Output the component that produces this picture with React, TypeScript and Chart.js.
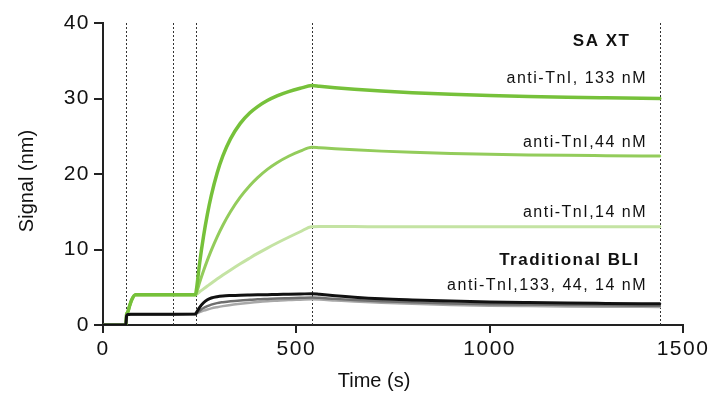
import React, { useEffect, useRef } from "react";
import { Chart, registerables } from "chart.js";

Chart.register(...registerables);

// Time points (s)
const TIME = [0, 59, 61, 64, 68, 74, 84, 120, 180, 239, 241, 250, 260, 270, 280, 295, 310, 330, 355, 380, 400, 425, 450, 480, 510, 540, 560, 600, 650, 720, 800, 900, 1000, 1100, 1200, 1300, 1440];

// SA XT (green)
const SAXT_133 = [0, 0, 1.4, 1.7, 2.4, 3.3, 4.0, 4.0, 4.0, 4.0, 4.46, 8.23, 11.75, 14.69, 17.14, 20.1, 22.39, 24.68, 26.7, 28.1, 28.93, 29.73, 30.35, 30.91, 31.35, 31.71, 31.61, 31.43, 31.23, 30.99, 30.77, 30.55, 30.39, 30.26, 30.16, 30.09, 30.01];
const SAXT_44 = [0, 0, 1.4, 1.7, 2.4, 3.3, 4.0, 4.0, 4.0, 4.0, 4.17, 5.65, 7.18, 8.59, 9.89, 11.65, 13.22, 15.03, 16.93, 18.48, 19.52, 20.61, 21.49, 22.35, 23.02, 23.55, 23.48, 23.34, 23.2, 23.03, 22.87, 22.72, 22.61, 22.53, 22.47, 22.43, 22.38];
const SAXT_14 = [0, 0, 1.4, 1.7, 2.4, 3.3, 4.0, 4.0, 4.0, 4.0, 4.04, 4.4, 4.78, 5.16, 5.54, 6.08, 6.61, 7.29, 8.11, 8.88, 9.48, 10.19, 10.86, 11.62, 12.35, 13.02, 13.03, 13.03, 13.03, 13.02, 13.02, 13.01, 13.0, 13.0, 13.0, 13.0, 13.02];

// Traditional BLI (black / grays)
const TRAD_133 = [0, 0, 1.2, 1.4, 1.4, 1.42, 1.42, 1.43, 1.44, 1.45, 1.6, 2.35, 2.95, 3.35, 3.58, 3.75, 3.84, 3.9, 3.95, 3.98, 4.0, 4.02, 4.05, 4.07, 4.1, 4.15, 4.07, 3.88, 3.68, 3.47, 3.32, 3.17, 3.06, 2.98, 2.91, 2.86, 2.8];
const TRAD_44 = [0, 0, 1.2, 1.4, 1.4, 1.42, 1.42, 1.43, 1.44, 1.45, 1.52, 1.9, 2.25, 2.5, 2.7, 2.9, 3.02, 3.15, 3.26, 3.34, 3.4, 3.45, 3.5, 3.55, 3.6, 3.65, 3.6, 3.46, 3.31, 3.15, 3.0, 2.86, 2.76, 2.7, 2.65, 2.6, 2.55];
const TRAD_14 = [0, 0, 1.2, 1.4, 1.4, 1.42, 1.42, 1.43, 1.44, 1.45, 1.49, 1.7, 1.9, 2.06, 2.2, 2.36, 2.5, 2.66, 2.81, 2.95, 3.05, 3.15, 3.22, 3.3, 3.35, 3.4, 3.37, 3.25, 3.1, 2.95, 2.8, 2.66, 2.56, 2.5, 2.45, 2.42, 2.4];

// Phase boundaries (s)
const PHASE_LINES = [60, 180, 240, 540, 1440];

const X_TICKS = [0, 500, 1000, 1500];
const Y_TICKS = [0, 10, 20, 30, 40];

// Annotation texts: [text, x (s, right edge), y (nm), bold]
const LABELS: [string, number, number, boolean][] = [
  ["SA XT", 1364, 37.8, true],
  ["anti-TnI, 133 nM", 1407, 32.8, false],
  ["anti-TnI,44 nM", 1407, 24.4, false],
  ["anti-TnI,14 nM", 1407, 15.0, false],
  ["Traditional BLI", 1388, 8.8, true],
  ["anti-TnI,133, 44, 14 nM", 1407, 5.4, false],
];

const FONT = "'Liberation Sans', Arial, Helvetica, sans-serif";

const toPts = (arr: number[]) => TIME.map((t, i) => ({ x: t, y: arr[i] }));

export default function App() {
  const ref = useRef<HTMLCanvasElement | null>(null);

  useEffect(() => {
    document.body.style.margin = "0";
    const canvas = ref.current;
    if (!canvas) return;

    const overlay = {
      id: "overlay",
      beforeDraw(chart: any) {
        chart.ctx.letterSpacing = "1.5px";
      },
      beforeDatasetsDraw(chart: any) {
        const { ctx, chartArea, scales } = chart;
        ctx.save();
        ctx.strokeStyle = "#333";
        ctx.lineWidth = 1;
        ctx.setLineDash([2, 2]);
        PHASE_LINES.forEach((t) => {
          const px = Math.round(scales.x.getPixelForValue(t)) + 0.5;
          ctx.beginPath();
          ctx.moveTo(px, chartArea.top);
          ctx.lineTo(px, chartArea.bottom);
          ctx.stroke();
        });
        ctx.restore();
      },
      afterDraw(chart: any) {
        const { ctx, scales } = chart;
        ctx.save();
        ctx.fillStyle = "#111";
        ctx.textAlign = "right";
        ctx.textBaseline = "alphabetic";
        LABELS.forEach(([txt, tx, ty, bold]) => {
          const size = bold ? 17 : 16;
          ctx.letterSpacing = "1.5px";
          ctx.font = `${bold ? "bold " : ""}${size}px ${FONT}`;
          const px = scales.x.getPixelForValue(tx);
          const py = scales.y.getPixelForValue(ty) + size * 0.358;
          ctx.fillText(txt, px, py);
        });
        // axis titles
        ctx.letterSpacing = "0px";
        ctx.font = `20px ${FONT}`;
        ctx.textAlign = "center";
        ctx.textBaseline = "middle";
        ctx.fillText("Time (s)", 374, 381);
        ctx.save();
        ctx.translate(27, 181);
        ctx.rotate(-Math.PI / 2);
        ctx.fillText("Signal (nm)", 0, 0);
        ctx.restore();
        ctx.restore();
      },
    };

    const ds = (label: string, arr: number[], color: string, width: number) => ({
      label,
      data: toPts(arr),
      borderColor: color,
      backgroundColor: color,
      borderWidth: width,
      pointRadius: 0,
      fill: false,
      cubicInterpolationMode: "monotone" as const,
      borderJoinStyle: "round" as const,
      borderCapStyle: "round" as const,
    });

    const chart = new Chart(canvas, {
      type: "line",
      data: {
        datasets: [
          ds("Traditional 133 nM", TRAD_133, "#111111", 3),
          ds("Traditional 44 nM", TRAD_44, "#6e6e6e", 2.5),
          ds("Traditional 14 nM", TRAD_14, "#a8a8a8", 2.5),
          ds("SA XT 133 nM", SAXT_133, "#76c13a", 3.5),
          ds("SA XT 44 nM", SAXT_44, "#93cc5b", 3),
          ds("SA XT 14 nM", SAXT_14, "#c4e3a3", 3),
        ],
      },
      plugins: [overlay],
      options: {
        responsive: false,
        animation: false,
        events: [],
        layout: { padding: { top: 23, right: 35, left: 0, bottom: 0 } },
        plugins: {
          legend: { display: false },
          tooltip: { enabled: false },
          title: { display: false },
        },
        scales: {
          x: {
            type: "linear",
            min: 0,
            max: 1500,
            afterFit: (s: any) => {
              s.height = 68;
            },
            afterBuildTicks: (s: any) => {
              s.ticks = X_TICKS.map((v) => ({ value: v }));
            },
            grid: {
              display: true,
              drawOnChartArea: false,
              drawTicks: true,
              tickLength: 8,
              color: "#222",
              lineWidth: 2,
            },
            border: { display: true, color: "#222", width: 2 },
            ticks: {
              color: "#111",
              font: { family: FONT, size: 21 },
              padding: 4,
              maxRotation: 0,
              autoSkip: false,
              callback: (v: any) => String(v),
            },
          },
          y: {
            type: "linear",
            min: 0,
            max: 40,
            afterFit: (s: any) => {
              s.width = 103;
            },
            afterBuildTicks: (s: any) => {
              s.ticks = Y_TICKS.map((v) => ({ value: v }));
            },
            grid: {
              display: true,
              drawOnChartArea: false,
              drawTicks: true,
              tickLength: 9,
              color: "#222",
              lineWidth: 2,
            },
            border: { display: true, color: "#222", width: 2 },
            ticks: {
              color: "#111",
              font: { family: FONT, size: 21 },
              padding: 4,
              autoSkip: false,
              callback: (v: any) => String(v),
            },
          },
        },
      },
    });

    return () => chart.destroy();
  }, []);

  return (
    <div style={{ width: 718, height: 393 }}>
      <canvas ref={ref} width={718} height={393} style={{ display: "block", width: 718, height: 393 }} />
    </div>
  );
}
